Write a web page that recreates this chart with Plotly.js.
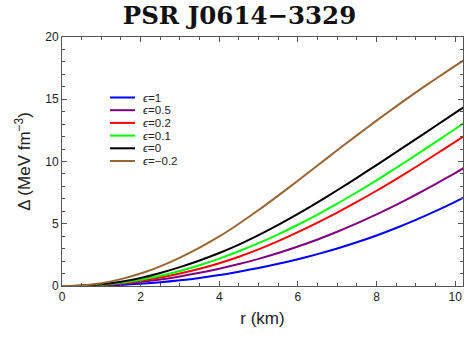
<!DOCTYPE html>
<html>
<head>
<meta charset="utf-8">
<script src="https://cdn.plot.ly/plotly-3.0.1.min.js"></script>
<style>html,body{margin:0;padding:0;background:#fff;}#chart{width:465px;height:340px;}</style>
</head>
<body>
<div id="chart"></div>
<script>
const r = [0, 0.5, 1, 1.5, 2, 2.5, 3, 3.5, 4, 4.5, 5, 5.5, 6, 6.5, 7, 7.5, 8, 8.5, 9, 9.5, 10, 10.25];
const eps1   = [0, 0.008, 0.035, 0.09, 0.18, 0.3, 0.46, 0.65, 0.88, 1.15, 1.45, 1.78, 2.15, 2.56, 3.01, 3.51, 4.06, 4.66, 5.31, 6.01, 6.76, 7.16];
const eps05  = [0, 0.015, 0.07, 0.17, 0.32, 0.52, 0.77, 1.06, 1.39, 1.76, 2.18, 2.65, 3.17, 3.74, 4.36, 5.03, 5.75, 6.52, 7.33, 8.18, 9.07, 9.53];
const eps02  = [0, 0.02, 0.09, 0.22, 0.42, 0.68, 1.0, 1.38, 1.83, 2.35, 2.94, 3.6, 4.32, 5.09, 5.9, 6.75, 7.65, 8.59, 9.56, 10.56, 11.58, 12.09];
const eps01  = [0, 0.02, 0.11, 0.27, 0.51, 0.82, 1.21, 1.67, 2.2, 2.79, 3.44, 4.15, 4.92, 5.74, 6.61, 7.53, 8.49, 9.49, 10.51, 11.55, 12.61, 13.15];
const eps0   = [0, 0.03, 0.14, 0.35, 0.65, 1.05, 1.52, 2.05, 2.65, 3.33, 4.09, 4.91, 5.79, 6.72, 7.69, 8.69, 9.71, 10.75, 11.8, 12.85, 13.9, 14.42];
const epsm02 = [0, 0.04, 0.22, 0.55, 1.0, 1.58, 2.28, 3.08, 3.98, 5.0, 6.1, 7.26, 8.46, 9.68, 10.9, 12.1, 13.28, 14.43, 15.55, 16.63, 17.68, 18.2];

const names = ['<i>ϵ</i>=1', '<i>ϵ</i>=0.5', '<i>ϵ</i>=0.2', '<i>ϵ</i>=0.1', '<i>ϵ</i>=0', '<i>ϵ</i>=−0.2'];
const colors = ['#0000ff', '#800080', '#ff0000', '#00ff00', '#000000', '#996633'];
const series = [eps1, eps05, eps02, eps01, eps0, epsm02];

const traces = series.map((y, i) => ({
  x: r, y: y, type: 'scatter', mode: 'lines', name: names[i], showlegend: false,
  line: {color: colors[i], width: 2, shape: 'spline', smoothing: 0.8}
}));

// legend drawn as shapes + annotations in paper coordinates
const plotL = 62, plotR = 463, plotT = 37, plotB = 286;
const px = v => (v - plotL) / (plotR - plotL);
const py = v => (plotB - v) / (plotB - plotT);
const shapes = [];
const annotations = [];
names.forEach((n, i) => {
  const yy = 97.5 + 12.7 * i;
  shapes.push({type: 'line', xref: 'paper', yref: 'paper', x0: px(110), x1: px(135), y0: py(yy), y1: py(yy),
               line: {color: colors[i], width: 2}});
  annotations.push({xref: 'paper', yref: 'paper', x: px(142), y: py(yy), xanchor: 'left', yanchor: 'middle',
                    text: n, showarrow: false, borderpad: 0,
                    font: {family: 'Liberation Sans, Arial, sans-serif', size: 11.5, color: '#222'}});
});

const axisCommon = {
  showgrid: false, zeroline: false, showline: true, mirror: 'ticks',
  linecolor: '#555', linewidth: 1, ticks: 'inside', ticklen: 5, tickcolor: '#555',
  tickfont: {family: 'Liberation Sans, Arial, sans-serif', size: 12, color: '#222'}
};

const layout = {
  width: 465, height: 340,
  margin: {l: 62, r: 2, t: 37, b: 54},
  paper_bgcolor: '#fff', plot_bgcolor: '#fff',
  title: {text: '<b>PSR J0614−3329</b>', x: 0.515, xanchor: 'center', y: 0.955, yanchor: 'middle',
          font: {family: 'DejaVu Serif, Liberation Serif, serif', size: 24.5, color: '#111'}},
  xaxis: Object.assign({}, axisCommon, {
    range: [0, 10.2], dtick: 2, tick0: 0,
    minor: {dtick: 0.5, ticks: 'inside', ticklen: 3, tickcolor: '#555'},
    title: {text: 'r (km)', standoff: 8, font: {family: 'Liberation Sans, Arial, sans-serif', size: 17, color: '#222'}}
  }),
  yaxis: Object.assign({}, axisCommon, {
    range: [0, 20], dtick: 5, tick0: 0,
    minor: {dtick: 1, ticks: 'inside', ticklen: 3, tickcolor: '#555'},
    title: {text: 'Δ (MeV fm<sup>−3</sup>)', standoff: 10, font: {family: 'Liberation Sans, Arial, sans-serif', size: 17, color: '#222'}}
  }),
  showlegend: false,
  shapes: shapes,
  annotations: annotations
};

Plotly.newPlot('chart', traces, layout, {displayModeBar: false, staticPlot: true});
</script>
</body>
</html>
